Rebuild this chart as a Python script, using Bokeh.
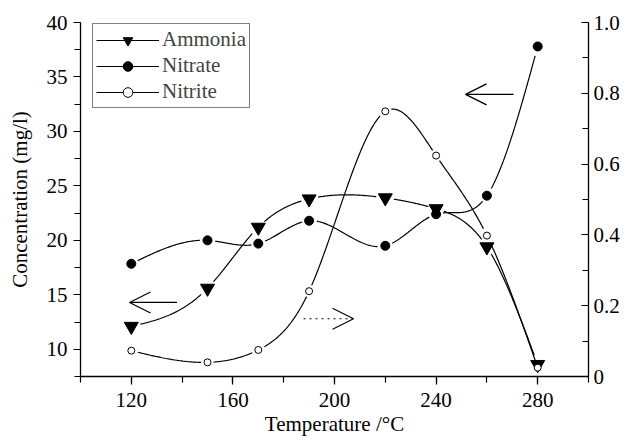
import numpy as np
from bokeh.plotting import figure
from bokeh.models import (Range1d, LinearAxis, SingleIntervalTicker, Legend,
                          LegendItem, Arrow, OpenHead, CustomJSTickFormatter)
from bokeh.embed import file_html
from bokeh.resources import INLINE

# ---------------- data ----------------
temperature = [120, 150, 170, 190, 220, 240, 260, 280]
ammonia = [12.1, 15.6, 21.2, 23.8, 23.9, 22.9, 19.4, 8.6]       # mg/l (left axis)
nitrate = [17.85, 20.0, 19.7, 21.8, 19.5, 22.4, 24.1, 37.8]      # mg/l (left axis)
nitrite = [0.073, 0.040, 0.075, 0.241, 0.749, 0.624, 0.398, 0.025]  # mg/l (right axis)

series_names = ["Ammonia", "Nitrate", "Nitrite"]
x_range = (100, 300)
left_range = (7.5, 40)
right_range = (0, 1.0)

# arrow annotations (data units, left axis): x_start, x_end, y
arrow_x_start = [270.5, 138.0, 187.8]
arrow_x_end = [251.6, 119.3, 207.5]
arrow_y = [33.4, 14.3, 12.8]
arrow_dash = ["solid", "solid", "dotted"]

FONT = "Liberation Serif"
FSIZE = "21px"
FW, FH = 508, 354


def natural_spline(x, y, n=60):
    x = np.asarray(x, float)
    y = np.asarray(y, float)
    k = len(x)
    h = np.diff(x)
    A = np.zeros((k, k))
    r = np.zeros(k)
    A[0, 0] = 1
    A[-1, -1] = 1
    for i in range(1, k - 1):
        A[i, i - 1] = h[i - 1]
        A[i, i] = 2 * (h[i - 1] + h[i])
        A[i, i + 1] = h[i]
        r[i] = 6 * ((y[i + 1] - y[i]) / h[i] - (y[i] - y[i - 1]) / h[i - 1])
    M = np.linalg.solve(A, r)
    segs = []
    for i in range(k - 1):
        t = np.linspace(x[i], x[i + 1], n)
        a = x[i + 1] - t
        b = t - x[i]
        s = (M[i] * a ** 3 + M[i + 1] * b ** 3) / (6 * h[i]) \
            + (y[i] / h[i] - M[i] * h[i] / 6) * a \
            + (y[i + 1] / h[i] - M[i + 1] * h[i] / 6) * b
        segs.append((t, s))
    return segs


def gapped_curve(x, y, yscale, gap):
    sx = FW / (x_range[1] - x_range[0])
    xs, ys = [], []
    for i, (t, s) in enumerate(natural_spline(x, y)):
        d0 = np.hypot((t - x[i]) * sx, (s - y[i]) * yscale)
        d1 = np.hypot((t - x[i + 1]) * sx, (s - y[i + 1]) * yscale)
        keep = (d0 >= gap) & (d1 >= gap)
        if keep.sum() > 1:
            xs.append(list(t[keep]))
            ys.append(list(s[keep]))
    return xs, ys


p = figure(frame_width=FW, frame_height=FH,
           x_range=Range1d(*x_range), y_range=Range1d(*left_range),
           output_backend="svg", toolbar_location=None,
           min_border_left=80, min_border_top=22,
           min_border_right=38, min_border_bottom=65)
p.extra_y_ranges = {"right": Range1d(*right_range)}
p.outline_line_color = None
p.xgrid.visible = False
p.ygrid.visible = False
p.background_fill_color = "white"
p.border_fill_color = "white"

# axes
xa = p.xaxis[0]
xa.ticker = SingleIntervalTicker(interval=40, num_minor_ticks=2)
xa.axis_label = "Temperature /°C"
ya = p.yaxis[0]
ya.ticker = SingleIntervalTicker(interval=5, num_minor_ticks=2)
ya.axis_label = "Concentration (mg/l)"
ra = LinearAxis(y_range_name="right",
                ticker=SingleIntervalTicker(interval=0.2, num_minor_ticks=2))
ra.formatter = CustomJSTickFormatter(
    code="return Math.abs(tick) < 1e-9 ? '0' : tick.toFixed(1);")
p.add_layout(ra, "right")

for ax in (xa, ya, ra):
    ax.axis_line_color = "black"
    ax.axis_line_width = 1.3
    ax.major_tick_line_color = "black"
    ax.minor_tick_line_color = "black"
    ax.major_tick_line_width = 1.2
    ax.minor_tick_line_width = 1.2
    ax.major_label_text_font = FONT
    ax.major_label_text_font_size = FSIZE
    ax.major_label_text_color = "black"
    ax.axis_label_text_font = FONT
    ax.axis_label_text_font_size = FSIZE
    ax.axis_label_text_font_style = "normal"
    ax.axis_label_text_color = "black"

xa.major_tick_out, xa.major_tick_in = 8, 0
xa.minor_tick_out, xa.minor_tick_in = 6, 0
xa.major_label_standoff = 8
xa.axis_label_standoff = 2
ya.major_tick_out, ya.major_tick_in = 7, 0
ya.minor_tick_out, ya.minor_tick_in = 6, 0
ya.major_label_standoff = 6
ya.axis_label_standoff = 12
ra.major_tick_out, ra.major_tick_in = 0, 7
ra.minor_tick_out, ra.minor_tick_in = 0, 6
ra.major_label_standoff = 5

sy_left = FH / (left_range[1] - left_range[0])
sy_right = FH / (right_range[1] - right_range[0])

# curves
ax_, ay_ = gapped_curve(temperature, ammonia, sy_left, 8)
nx_, ny_ = gapped_curve(temperature, nitrate, sy_left, 7)
ix_, iy_ = gapped_curve(temperature, nitrite, sy_right, 6)

l_am = p.multi_line(ax_, ay_, line_color="black", line_width=1.2)
l_na = p.multi_line(nx_, ny_, line_color="black", line_width=1.2)
l_ni = p.multi_line(ix_, iy_, line_color="black", line_width=1.2,
                    y_range_name="right")

m_am = p.scatter(temperature, ammonia, marker="inverted_triangle", size=14,
                 fill_color="black", line_color="black")
m_na = p.scatter(temperature, nitrate, marker="circle", size=9,
                 fill_color="black", line_color="black")
m_ni = p.scatter(temperature, nitrite, marker="circle", size=7,
                 fill_color="white", line_color="black", line_width=1,
                 y_range_name="right")

# arrows
for xs0, xs1, yy, dash in zip(arrow_x_start, arrow_x_end, arrow_y, arrow_dash):
    p.add_layout(Arrow(x_start=xs0, y_start=yy, x_end=xs1, y_end=yy,
                       line_color="black", line_width=1.2, line_dash=dash,
                       end=OpenHead(size=21, line_color="black", line_width=1.2)))

legend = Legend(items=[
    LegendItem(label=series_names[0], renderers=[l_am, m_am]),
    LegendItem(label=series_names[1], renderers=[l_na, m_na]),
    LegendItem(label=series_names[2], renderers=[l_ni, m_ni]),
], location=(12, 268))
legend.glyph_width = 63
legend.glyph_height = 24
legend.label_height = 24
legend.spacing = 1
legend.padding = 3
legend.margin = 0
legend.label_standoff = 3
legend.label_text_font = FONT
legend.label_text_font_size = FSIZE
legend.border_line_color = "black"
legend.border_line_width = 1.2
legend.background_fill_alpha = 1
p.add_layout(legend)

open("out.html", "w").write(file_html(p, INLINE))
